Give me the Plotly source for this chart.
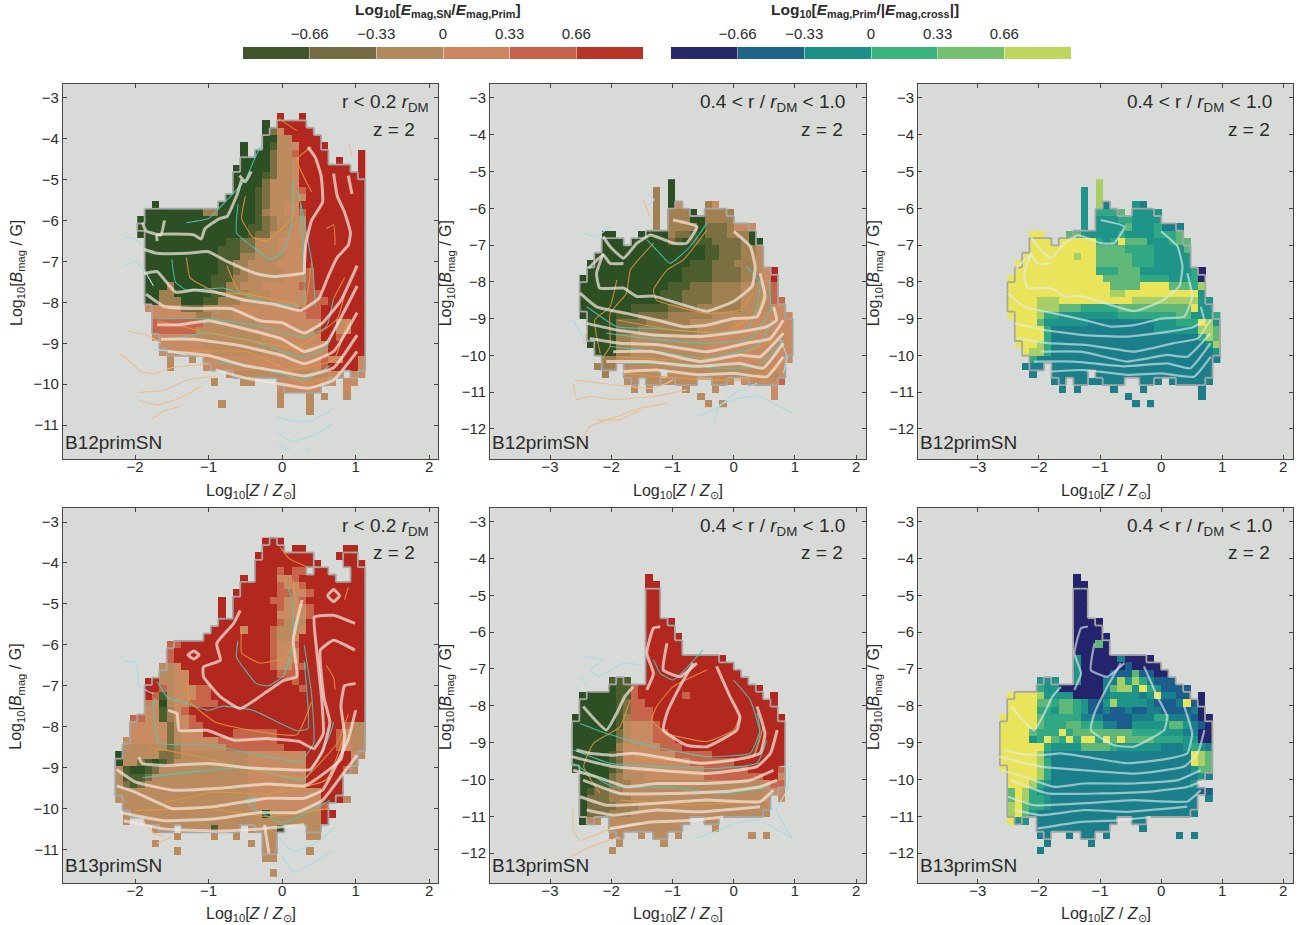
import re
import plotly.graph_objects as go

W, H = 1304, 925
GREENRED = ["#2c4f24", "#4c5d2e", "#7a7042", "#a08050", "#b98b5e", "#c98c62", "#c6654a", "#b2281f"]
VIRID = ["#23246b", "#1b5d8c", "#1a7f8b", "#1f9488", "#31a884", "#5fb878", "#a6cf68", "#e9e45a"]
BAR_L = ["#40552a", "#756b42", "#b08a5c", "#cd8660", "#c5624a", "#b73527"]
BAR_R = ["#27296b", "#1f6388", "#1b9089", "#39b27c", "#74c06f", "#bdd65c"]
BAR_TICKS = [-0.66, -0.33, 0, 0.33, 0.66]
BAR_CENTERS = [-0.825, -0.495, -0.165, 0.165, 0.495, 0.825]

# run-length rows, top to bottom: <count><level>, '.' = empty cell
P1_ROWS = ["19.1h2.1h", "17.1a1.4h", "17.1a1c1f4h", "17.2a2e4h", "14.1a2.1a1b2e1f4h", "14.1a1.2a1c2e1g4h4.1h",
 "14.4a1c2e1f4h1.1h2.1h", "13.5a1c2e1f7h1.1h", "13.4a1b1c2e1f9h", "13.4a1c3e1f9h", "13.3a1b1c3e1f1g8h",
 "12.4a1b1c3e2f8h", "2.1a8.5a1b1c2e2f9h", "1.8a2d5a1b1d2e2f1g8h", "16a1b1c1d2e2f8h", "15a2b1c1d2e2f8h", "15a1b2c2e3f8h",
 "1.11a2b2c3e4f8h", "1.10a3b2c3e4f8h", "1.10a3b2d4e3f8h", "1.10a2b2d4e4f8h", "1.10a2b1c1d5e3f1g7h", "1.9a3b2d5e3f1g7h",
 "1.3a1d5a2b2d3e5f2g7h", "1.2a2d5a2b3d3e5f2g6h", "1.2a3d3a2b3d4e5f3g5h", "1.5f3c4e9f3g6h", "2.6f2d3e10f2g6h",
 "2.7g7e9f2h2f2h", "2.6g8e8f1g2h2f2h", "2.6f9e8f2h1g3h", "3.6f9e8f5h", "3.7f9e7f5h", "4.1e2.1e1.16f1g2f2h1f",
 "4.1e4.16f1g4h1f", "12.14e2f1.2f", "10.1e3.2e3.7f1f1.2f", "19.6f3.1f", "19.1e3.1e1.1e2.1e", "11.1e7.1e3.1e", "23.1e"]

P2_ROWS = ["12.1a", "10.1d1.1a", "10.1d1.1a", "10.1d1.1a1f3.1d1f", "10.1d1.3d1a1.4d", "10.1d1.3d2a4d", "10.1d1.4d1a3c1d3f",
 "3.2a3.4a1d2c1b1a3c3d1a", "3.3a1.5a1c1b1a3b4c1d2a", "3.14a2b3c2d1e", "2.15a2b3c2d1e", "1.14a3b3c3d1e", "1.13a4b4c2d1e1f1h",
 "14a4b4c3d1f1h", "12a3b3c4d3e1f1g", "11a3b4c4d4e1g", "11a3b4c4d4e2g", "7a5b4c6d4e2f", "5a3b4c6d6e5f", "1.4a4c6d6e8f",
 "1.4a3c8d5e8f", "1.4a2d9e13f", "1.4a2d10e12f", "2.3a2d10e12f", "3.2d12e12f", "2.3d1.16e6f", "3.1d2.5e1.15e1f",
 "6.2e1.7e2.3e1.5f1g", "7.1e1.1e4.1e3.1e7.1f", "16.1e9.1f", "17.1e1.1e"]

P3_ROWS = ["12.1g", "10.1d1.1g", "10.1d1.1g", "10.1d1.1g1c3.1d1c", "10.1d1.3e1f1.4d", "10.1d1.3d2e4d", "10.1d1.4d1f3d1e3c",
 "3.2h3.2f3d2d1e1d3d3e1f", "3.3h1.5h1e1d1e1h3f3d1e2f", "3.9h4f4e4d1f", "2.7h1g2h5f3e5d", "1.11h5f3e5d", "1.11h3e3f4d3d1e1a",
 "13h2f3f4e3d1e1a", "14h4f4h3f1e1g", "14h2g10h1d", "4h3g10h9g2d", "4h3g3f5e10f1h2d", "4h1g2e8d8e2f3d1e",
 "1.3h1f6d9c3d2e1e1h1g1d", "1.4h1e14c5d1d2g1f", "1.4h1e20c1e1g1f", "1.3h1g1e21c1d1g", "2.1h2g1e22c1d", "3.1e25c",
 "2.3c1.22c", "3.1c2.5c1.16c", "6.2c1.7c2.3c1.6c", "7.1c1.1c4.1c3.1c7.1c", "16.1c9.1c", "17.1c1.1c"]

P4_ROWS = ["20.3h", "20.3h1.2h5.2h", "19.8h3.3h", "19.9h3.3h", "19.3h1g1h2g1.2h3.2h", "17.1h1.3h2f1g5h2.2h", "17.5h1g2f1g8h",
 "16.6h2g2f1g7h", "14.1h1.5h2g2f1g8h", "14.1h1.6h1g3f1g7h", "14.1h1.6h1f3f1g7h", "14.8h1g3e8h", "13.4h1f3h1g3e1f8h",
 "12.9h1g2e1f9h", "7.2g12h1g2f1g9h", "7.1g13h1g3f9h", "7.1g13h1g3f9h", "6.2e1f12h1g2f2g8h", "6.2e2f12h3g9h", "4.2h2e2f14h1g9h",
 "4.2h1g1e3f2g12h1g8h", "4.1h1g1b1e3f2g21h", "4.1e1f1a1e2f4g20h", "4.2f1b1d1f1g24h", "2.2g2f1b1d2f1g23h",
 "2.2f3f1c1e1f2g19h1g2e", "2.5f1c1e3f4h6g8h1g1f2e", "1.6f1c1e5f8g8h1g1f2e", "1.6e1c1d6f8g7h1g1f2e", "1a5e2c1d9e8f6h1f1e",
 "1a2e1c1b1a1b1c10e8f6h1e", "1e1b2a1b1c12e8f5h1g1e", "1e3b1c13e8f5h", "1e1c1b1c14e8f5h", "18e10f3h", "18e10f3h1e", "1.17e10f1g",
 "1.19e1a7e2h", "1.1e2.24e1h", "5.3e1.4e1b3e1.4e1a3.2e", "8.1e4.1e2.1e3.2e4.2e", "5.1e12.1e1.2e", "8.1e11.2e4.1e", "20.2e", "", "21.1e"]

P5_ROWS = ["10.1h", "10.2h", "10.2h", "10.2h", "10.2h", "10.2h", "10.4h", "10.4h", "10.5h", "10.5h", "10.5h", "10.11h", "10.12h", "10.13h",
 "5.3b2.14h", "5.1a2b1g17h", "1.5a2b1g6h1g10h1.1h", "1.5a1b1c2g18h", "1.5a1b1c3g17h", "6a1b1d3g18h", "6a1b1e3f1g17h", "6a1c1e3f2g16h",
 "6a1c1e3f3g15h", "6a1d1f4f3g14h", "5a1b1c1f6f5g10h", "5a1b1c1f8f6g7h", "5a1b1c1e10f6g4h1g", "1.4a1c1d3e8f8g2h1f",
 "1.2a2b1c2d18e1f2g", "1.1a1b2c2d19e3f", "1.1a1c2c3d18e1f1.1f", "1.1a4c3d18e", "1.1a3c3d19e", "1.1a2e1.11e2.2e", "5.10e4.1e",
 "5.2e2.1e1.2e1.1e9.1e1.1e", "6.1e5.1e", "5.1e"]

P6_ROWS = ["10.1a", "10.2a", "10.2a", "10.2a", "10.2a", "10.2a", "10.4a", "10.4a", "10.5a", "10.3a1f1a", "10.5a", "10.1d5a1c4a", "10.1d6a1b4a",
 "10.1d4a3b1f2b2a", "5.3d2.1d3a2c1g1d1g1e1c3b", "5.1e2d6a1c1f2g1d1h1e1d4b", "1.4h1g2d2d4a1c1d3d1c1d1h2c2b1.1a",
 "1.4h2f1e2f1e1d2b1d1g4d1c3b1c1h1b1a", "1.4h2e1d2f1e1d2b1c2b1c2b2c4b1c1a", "5h1f5e3c4b3c2e3c1b2a", "5h1f3e2f3e2c2b5d2f1d1c1b1a",
 "4h1f3e1h1e1f7f4e3d1c1c2a", "4h1d1e1h1f1e1h1e2h1e1h1f1h4f4e2d2a", "6h1e4d4f1e6d3c1d1e1d1c", "5h1g1d19c1h1g1f", "5h1g1e19c1h1g1f",
 "5h1g1e19c1d1f1f", "1.4h1g1e20c1d1c", "1.3h1g1e1d19c1d", "1.1f1h1g1e1d20c1c2b", "1.1f1h1g2e1d19c1c1.1c", "1.1g1h1f2e1d20c",
 "1.1g1h1f1d22c", "1.1h2d1.11c2.2c", "5.10c4.1c", "5.2c2.1c1.2c1.1c9.1c1.1c", "6.1c5.1c", "5.1c"]

# contour lines in data units
P1_WHITE = [
 [(-1.88,-6.7),(-1.7,-6.8),(-1.3,-6.8),(-1.0,-6.76),(-0.75,-7.0),(-0.35,-7.3),(-0.1,-7.37),(0.3,-7.29)],
 [(-1.88,-7.3),(-1.7,-7.25),(-1.45,-7.75),(-1.2,-7.7),(-0.9,-7.75),(-0.5,-7.95),(-0.1,-8.05),(0.25,-8.2),(0.5,-7.9),(0.63,-7.35),(0.75,-6.9),(0.9,-6.6),(0.93,-6.3),(0.85,-5.8),(0.75,-5.4),(0.7,-4.85)],
 [(-1.85,-7.8),(-1.6,-8.1),(-1.2,-8.15),(-0.7,-8.15),(-0.3,-8.45),(0,-8.5),(0.3,-8.75),(0.55,-8.5),(0.8,-7.95),(1.02,-7.1)],
 [(-1.7,-8.55),(-1.4,-8.55),(-1.0,-8.45),(-0.5,-8.65),(0,-8.9),(0.3,-9.2),(0.6,-9.0),(0.85,-8.2),(1.02,-7.6)],
 [(-1.65,-8.9),(-1.2,-8.9),(-0.6,-9.05),(0,-9.3),(0.3,-9.5),(0.7,-9.2),(1.02,-8.25)],
 [(-1.55,-9.2),(-1.0,-9.3),(-0.5,-9.55),(0,-9.7),(0.3,-9.8),(0.7,-9.6),(1.02,-8.8)],
 [(-0.9,-9.65),(-0.5,-9.85),(0,-10.0),(0.35,-10.1),(0.7,-9.9),(1.02,-9.2)],
 [(-1.9,-6.05),(-1.85,-6.25),(-1.65,-6.35),(-1.6,-6.0)],
 [(-1.7,-6.5),(-1.7,-6.35),(-1.2,-6.35),(-1.1,-6.45),(-1.05,-6.2),(-0.85,-5.95),(-0.75,-5.9),(-0.62,-5.4),(-0.55,-5.0)],
 [(-0.58,-4.9),(-0.5,-5.05),(-0.42,-4.8)],
 [(0.3,-7.3),(0.32,-6.6),(0.4,-6.0),(0.55,-5.55),(0.53,-4.9),(0.45,-4.45),(0.35,-4.2)],
 [(0.95,-5.35),(0.9,-4.9)],
]
P1_CYAN = [
 [(-0.6,-5.6),(-0.62,-6.3),(-0.25,-6.85),(-0.18,-6.95),(0.0,-6.8),(0.13,-6.1),(0.15,-5.0)],
 [(0.3,-8.1),(0.3,-7.3),(0.25,-5.6)], [(0.45,-8.1),(0.42,-7.2),(0.3,-6.0),(0.22,-5.3)],
 [(-1.7,-8.4),(-1.0,-8.4),(-0.4,-8.55),(0.3,-8.85),(0.6,-8.6),(0.7,-7.9)],
 [(-1.55,-8.9),(-1,-8.75),(-0.4,-8.95),(0.3,-9.35),(0.6,-9.1),(0.75,-8.5)],
 [(-0.9,-9.45),(-0.2,-9.65),(0.3,-9.9),(0.65,-9.55)],
 [(-1.5,-6.95),(-1.45,-7.5),(-1.3,-7.7),(-0.8,-7.65),(-0.2,-8.0),(0.3,-8.1)],
 [(-1.3,-6.05),(-1.0,-5.95),(-0.7,-5.4),(-0.5,-5.0),(-0.4,-4.6),(-0.3,-4.2)],
]
P1_ORANGE = [
 [(-0.5,-5.4),(-0.55,-5.95),(-0.4,-6.4),(-0.2,-6.5),(0.1,-6.0),(0.25,-5.4)],
 [(-1.3,-6.9),(-1.25,-7.4),(-0.9,-7.75),(-0.5,-7.8),(0.1,-8.0),(0.3,-8.1),(0.4,-7.0)],
 [(-0.75,-7.1),(-0.6,-7.7),(-0.2,-7.9)],
 [(-1.7,-8.45),(-1.1,-8.7),(-0.4,-8.95),(0.2,-9.1),(0.75,-8.4),(0.85,-7.8)],
 [(-1.3,-9.2),(-0.5,-9.2),(0.1,-9.65),(0.7,-9.4),(0.9,-8.4)],
 [(0.05,-9.7),(0.3,-10.0),(0.7,-9.8)],
 [(0.4,-5.3),(0.2,-4.5),(0.4,-4.2)], [(-0.05,-3.5),(0.2,-3.8)], [(0.6,-6.2),(0.7,-6.1),(0.72,-6.6)], [(0.7,-7.9),(0.85,-7.4)],
]
P1_LBLUE = [
 [(-2.15,-6.4),(-2.0,-6.45),(-1.9,-6.6)], [(-2.15,-7.1),(-2.0,-7.0),(-1.88,-7.2),(-1.75,-7.6)],
 [(-1.75,-9.15),(-1.5,-9.2),(-1.3,-9.3)], [(-0.1,-10.8),(0.15,-10.9),(0.4,-10.9),(0.7,-10.6)],
 [(-0.06,-11.2),(0.15,-11.4),(0.5,-11.2),(0.7,-10.95)], [(-0.05,-11.5),(0.1,-11.6)], [(0.33,-11.6),(0.4,-11.55)],
]
P1_LORANGE = [
 [(-2.2,-9.25),(-1.9,-9.7),(-1.75,-9.75),(-1.5,-9.6),(-1.0,-9.5)], [(-1.95,-10.2),(-1.6,-10.15),(-1.3,-9.9),(-0.9,-9.8)],
 [(-1.95,-10.4),(-1.7,-10.5),(-1.4,-10.35),(-1.1,-10.05)], [(-1.77,-10.85),(-1.6,-10.65),(-1.4,-10.55)],
 [(-2.1,-8.7),(-1.85,-8.8),(-1.65,-9.0)], [(0.9,-4.1),(0.95,-4.4)],
]
P2_WHITE = [
 [(0,-6.63),(0.27,-7.04),(0.35,-7.58),(0.3,-8.12),(0,-8.53),(-0.44,-8.8),(-0.88,-8.6),(-1.31,-8.39),(-1.58,-8.4),(-1.8,-8.17),(-2.19,-8.17),(-2.24,-7.77),(-2.13,-7.23)],
 [(-2.51,-8.31),(-2.24,-8.68),(-1.75,-8.86),(-1.26,-9.04),(-0.82,-9.22),(-0.44,-9.18),(0,-9.0),(0.38,-8.95),(0.51,-8.4),(0.43,-7.77)],
 [(-2.4,-9.13),(-1.91,-9.31),(-1.26,-9.45),(-0.55,-9.49),(0.1,-9.36),(0.54,-9.22),(0.7,-9.04),(0.65,-8.68)],
 [(-2.35,-9.54),(-1.86,-9.67),(-1.2,-9.72),(-0.44,-9.9),(0.21,-9.67),(0.6,-9.54),(0.81,-9.04)],
 [(-1.97,-9.9),(-1.31,-9.9),(-0.55,-10.17),(0.1,-9.99),(0.43,-10.04),(0.81,-9.4)],
 [(-2.08,-10.17),(-1.42,-10.17),(-0.6,-10.3),(0.1,-10.22),(0.48,-10.35),(0.81,-9.67)],
 [(-1.8,-10.44),(-1.26,-10.4),(-0.55,-10.53),(0,-10.49),(0.54,-10.58),(0.81,-10.04)],
 [(-2.13,-6.77),(-2.02,-7.04),(-1.8,-7.36),(-1.58,-6.95),(-1.36,-6.73),(-0.99,-6.95),(-0.77,-6.95),(-0.6,-6.5),(-0.99,-6.32)],
 [(-2.37,-7.63),(-2.13,-7.27),(-2.02,-7.5),(-1.8,-7.5)],
]
P2_CYAN = [
 [(-0.44,-6.41),(-0.71,-7.04),(-1.04,-7.5),(-1.26,-7.13),(-1.42,-6.85)],
 [(0.21,-7.59),(0.43,-8.04),(0.38,-8.68),(0.21,-9.31),(-0.28,-9.4),(-1.26,-9.27),(-1.91,-9.22),(-2.4,-8.68)],
 [(-2.08,-9.4),(-1.2,-9.58),(-0.44,-9.67),(0.27,-9.54),(0.6,-8.77),(0.57,-7.95)],
 [(-2.02,-9.76),(-1.26,-9.9),(-0.5,-10.08),(0.38,-9.76),(0.65,-9.04)],
 [(-1.8,-10.22),(-0.99,-10.22),(-0.28,-10.35),(0.38,-10.3),(0.81,-9.58)],
]
P2_ORANGE = [
 [(-0.44,-6.6),(-0.82,-7.4),(-1.09,-7.68),(-1.31,-8.22),(-1.26,-8.5),(-0.44,-8.86),(0.1,-8.77),(0.32,-8.31)],
 [(-1.31,-6.95),(-1.69,-7.68),(-1.75,-8.31),(-2.02,-8.86),(-2.02,-9.76),(-2.13,-10.04)],
 [(-1.91,-7.95),(-2.02,-8.68),(-2.27,-9.04),(-2.18,-9.95)],
 [(-1.91,-9.04),(-0.99,-9.31),(-0.17,-9.36),(0.38,-8.86),(0.51,-8.22)],
 [(-1.91,-10.04),(-0.99,-10.12),(0,-10.04),(0.65,-9.58)],
 [(-1.8,-10.49),(-0.88,-10.62),(0.1,-10.67),(0.81,-10.3)],
]
P2_LBLUE = [
 [(-2.46,-6.68),(-2.24,-6.77),(-2.02,-6.5)], [(-1.42,-5.95),(-1.3,-5.77),(-1.42,-5.6)], [(-2.62,-9.04),(-2.51,-9.4),(-2.4,-9.67)],
 [(-0.6,-11.67),(-0.28,-11.45),(0,-11.04),(0.38,-10.76)], [(-0.33,-11.8),(-0.22,-11.35),(0,-11.2),(0.38,-11.1),(0.95,-11.57)],
 [(0.76,-9.58),(0.87,-10.04),(0.81,-10.49)],
]
P2_LORANGE = [
 [(-2.62,-10.76),(-2.56,-11.2),(-2.35,-11.12),(-1.97,-11.2),(-1.31,-11.12),(-0.77,-10.94)],
 [(-2.6,-10.67),(-1.97,-10.8),(-1.31,-10.9),(-0.99,-10.67)],
 [(-2.55,-12.55),(-2.35,-11.94),(-1.91,-11.67),(-1.53,-11.44),(-1.09,-11.3)],
 [(-2.24,-11.75),(-1.86,-11.75),(-1.53,-11.49)], [(-1.48,-5.77),(-1.37,-6.23)], [(-2.4,-9.3),(-2.45,-9.7)],
]
P4_WHITE = [
 [(0.27,-4.91),(0.15,-5.89),(0.2,-6.78),(0.02,-6.87),(-0.21,-7.15),(-0.57,-7.56),(-0.84,-7.27),(-1.07,-6.78),(-1.07,-6.54),(-0.84,-6.38),(-0.89,-5.97),(-0.66,-5.48),(-0.57,-5.16)],
 [(-1.55,-7.6),(-1.43,-7.68),(-1.4,-8.09),(-1.02,-8.09),(-0.66,-8.33),(-0.21,-8.29),(0.24,-8.37),(0.43,-8.54),(0.56,-8.17),(0.54,-7.36),(0.47,-6.13),(0.44,-5.32),(0.7,-5.28),(0.99,-5.48)],
 [(0.99,-6.13),(0.7,-5.89),(0.52,-6.13),(0.57,-7.3),(0.65,-7.9),(0.55,-8.6),(0.38,-9.05),(0.05,-9.05),(-0.5,-9.0),(-1.0,-8.9),(-1.6,-8.95),(-1.9,-8.9),(-1.95,-8.75)],
 [(1.0,-6.95),(0.85,-7.0),(0.8,-7.5),(0.85,-8.2),(0.8,-8.8),(0.45,-9.3),(0.3,-9.45),(-0.2,-9.4),(-0.8,-9.5),(-1.5,-9.55),(-2.0,-9.35),(-2.25,-9.05)],
 [(1.0,-7.6),(0.9,-8.3),(0.55,-9.55),(0.3,-9.75),(-0.2,-9.75),(-0.9,-9.95),(-1.5,-10.0),(-2.0,-9.6),(-2.25,-9.45)],
 [(1.02,-8.7),(0.85,-9.1),(0.55,-9.8),(0.2,-10.1),(-0.3,-10.1),(-0.9,-10.25),(-1.6,-10.3),(-2.2,-10.1)],
 [(-2.15,-10.3),(-1.6,-10.5),(-0.9,-10.55),(-0.3,-10.5),(0.3,-10.4)],
 [(0.62,-4.8),(0.7,-4.65),(0.78,-4.8),(0.7,-4.95),(0.62,-4.8)], [(-1.28,-6.25),(-1.2,-6.15),(-1.13,-6.25),(-1.2,-6.35),(-1.28,-6.25)],
 [(-0.24,-10.4),(-0.18,-11.1)],
]
P4_CYAN = [
 [(-0.6,-5.9),(-0.62,-6.3),(-0.35,-6.95),(-0.18,-7.0),(0.02,-6.75),(0.15,-6.0),(0.15,-5.0),(0.08,-4.6)],
 [(-1.7,-6.9),(-1.55,-7.3),(-1.35,-7.4),(-1.0,-7.6),(-0.8,-7.5),(-0.4,-7.6),(0.2,-8.1),(0.35,-8.05),(0.3,-6.4)],
 [(-1.73,-7.3),(-1.75,-7.6),(-1.68,-8.4),(-1.0,-8.45),(-0.3,-8.7),(0.25,-8.85),(0.43,-8.4),(0.4,-7.2),(0.3,-6.0)],
 [(-1.9,-9.25),(-1.2,-9.1),(-0.5,-9.0),(0.3,-9.3),(0.65,-8.2),(0.7,-7.9)],
 [(-0.5,-9.8),(-0.4,-9.95),(-0.35,-9.7),(-0.5,-9.8)], [(-0.4,-10.0),(0.0,-10.35),(0.4,-10.05),(0.65,-9.8)],
]
P4_ORANGE = [
 [(-1.3,-6.9),(-1.25,-7.4),(-0.9,-7.9),(-0.4,-8.1),(0.2,-8.2),(0.4,-7.4)],
 [(-0.55,-5.6),(-0.55,-6.2),(-0.3,-6.45),(0.05,-6.3),(0.2,-5.6),(0.18,-4.9),(0.15,-4.4)],
 [(-1.8,-8.5),(-1.1,-8.75),(-0.3,-9.1),(0.3,-9.25),(0.75,-8.4),(0.9,-7.7)],
 [(-1.6,-9.85),(-0.9,-9.6),(-0.2,-9.65),(0.6,-9.3),(0.85,-8.2)],
 [(-2.0,-10.05),(-1.0,-10.0),(-0.2,-10.2),(0.65,-10.0)],
 [(0.6,-6.5),(0.7,-6.8),(0.72,-7.1)], [(-0.03,-3.6),(0.1,-3.9),(0.35,-4.1)], [(0.85,-4.9),(0.9,-4.6)],
]
P4_LBLUE = [
 [(-2.15,-6.4),(-1.98,-6.45),(-1.95,-7.0),(-1.75,-7.2)],
 [(-0.05,-10.7),(0.15,-11.05),(0.5,-10.8),(0.72,-10.45)], [(0.0,-11.15),(0.15,-11.55),(0.45,-11.3),(0.7,-11.0)],
]
P4_LORANGE = [[(-1.9,-10.3),(-1.75,-10.6),(-1.6,-10.7)], [(-1.7,-10.85),(-1.5,-10.7)]]
P5_WHITE = [
 [(-0.28,-6.93),(-0.06,-7.75),(0.1,-8.29),(0.05,-8.66),(-0.44,-9.11),(-0.77,-9.07),(-1.15,-8.66),(-1.09,-8.2),(-0.88,-7.48),(-0.66,-6.84)],
 [(0.38,-8.02),(0.51,-8.75),(0.43,-9.29),(0,-9.47),(-0.55,-9.56),(-1.26,-9.38),(-1.64,-9.29),(-1.97,-9.34),(-2.35,-9.29),(-2.57,-9.2)],
 [(-2.65,-9.38),(-1.97,-9.65),(-1.26,-9.75),(-0.44,-9.84),(0.38,-9.65),(0.6,-9.29),(0.71,-8.66)],
 [(-2.62,-9.75),(-2.24,-9.93),(-1.75,-10.2),(-1.26,-10.11),(-0.44,-10.11),(0.27,-10.02),(0.65,-9.75)],
 [(-2.46,-10.02),(-1.86,-10.38),(-0.99,-10.38),(-0.17,-10.33),(0.43,-10.2),(0.71,-10.02)],
 [(-2.51,-10.47),(-2.08,-10.7),(-1.31,-10.65),(-0.44,-10.56),(0.43,-10.6),(0.65,-10.29)],
 [(-2.4,-10.83),(-1.97,-10.97),(-1.26,-10.83),(-0.55,-10.88),(0.43,-10.74)],
 [(-2.02,-11.33),(-1.31,-11.15),(-0.66,-11.11),(-0.17,-11.02)],
 [(-2.46,-8.02),(-2.08,-8.66),(-1.91,-8.2),(-1.78,-7.75),(-1.64,-7.48)],
 [(-1.42,-7.57),(-1.31,-7.12),(-1.42,-6.57),(-1.31,-5.89),(-1.2,-5.85)],
 [(-1.09,-6.3),(-1.15,-7.03),(-0.88,-7.21),(-0.6,-6.84)],
]
P5_CYAN = [
 [(-2.51,-8.48),(-2.08,-8.75),(-1.31,-9.11),(-0.44,-9.38),(0.27,-9.29),(0.43,-8.66),(0.38,-8.2)],
 [(-2.62,-9.2),(-2.02,-9.56),(-1.2,-9.65),(-0.28,-9.7),(0.38,-9.56),(0.54,-8.93)],
 [(-2.62,-9.56),(-1.97,-10.2),(-1.09,-10.2),(-0.17,-10.38),(0.6,-10.2)],
 [(-1.31,-6.75),(-1.2,-7.12),(-0.99,-7.3),(-0.5,-6.48)], [(0,-7.3),(0.27,-7.84),(0.43,-8.75),(0.32,-9.38)],
]
P5_ORANGE = [
 [(-0.44,-7.03),(-0.99,-7.48),(-1.26,-8.02),(-1.34,-8.39),(-1.09,-8.75),(-0.44,-8.97),(0,-8.66),(0.1,-8.29)],
 [(-1.69,-7.84),(-1.86,-8.57),(-2.29,-9.02),(-2.45,-9.65),(-2.18,-10.38)],
 [(-1.64,-9.38),(-0.44,-9.56),(0.32,-9.38),(0.48,-8.57)], [(-1.86,-10.56),(-0.71,-10.7),(0.54,-10.56)],
]
P5_LBLUE = [
 [(-2.46,-6.66),(-2.13,-6.75),(-2.35,-7.03),(-2.2,-7.2),(-1.8,-6.84),(-1.5,-6.9)], [(-2.51,-7.2),(-2.4,-7.43)],
 [(-0.6,-11.6),(-0.28,-11.4),(0,-11.2),(0.38,-11.1),(0.95,-11.58)], [(0.76,-9.65),(0.92,-9.65),(0.87,-10.29),(0.7,-10.83),(0.95,-11.6)],
]
P5_LORANGE = [
 [(-2.62,-10.74),(-2.62,-11.38),(-2.51,-11.65),(-2.08,-11.38),(-1.53,-11.2)], [(-2.65,-12.1),(-2.35,-11.83),(-1.86,-11.56)],
]

PANELS = [
 dict(rows=P1_ROWS, pal=GREENRED, px=(63, 438), py=(84, 459), xr=(-2.98, 2.12), yr=(-11.83, -2.66), x0=-1.97, y0=-3.37, dx=0.1, dy=0.18,
      sets=(P1_WHITE, P1_CYAN, P1_ORANGE, P1_LBLUE, P1_LORANGE), xt=[-2,-1,0,1,2], yt=list(range(-3,-12,-1)), name="B12primSN", rad=0),
 dict(rows=P2_ROWS, pal=GREENRED, px=(490.3, 866), py=(84, 459), xr=(-3.975, 2.16), yr=(-12.82, -2.62), x0=-2.516, y0=-5.21, dx=0.12, dy=0.2,
      sets=(P2_WHITE, P2_CYAN, P2_ORANGE, P2_LBLUE, P2_LORANGE), xt=[-3,-2,-1,0,1,2], yt=list(range(-3,-13,-1)), name="B12primSN", rad=1),
 dict(rows=P3_ROWS, pal=VIRID, px=(918.3, 1293), py=(84, 459), xr=(-3.975, 2.16), yr=(-12.82, -2.62), x0=-2.516, y0=-5.21, dx=0.12, dy=0.2,
      sets=(P2_WHITE, [], [], [], []), xt=[-3,-2,-1,0,1,2], yt=list(range(-3,-13,-1)), name="B12primSN", rad=1),
 dict(rows=P4_ROWS, pal=GREENRED, px=(63, 438), py=(507.7, 883.3), xr=(-2.98, 2.12), yr=(-11.83, -2.65), x0=-2.27, y0=-3.384, dx=0.1, dy=0.18,
      sets=(P4_WHITE, P4_CYAN, P4_ORANGE, P4_LBLUE, P4_LORANGE), xt=[-2,-1,0,1,2], yt=list(range(-3,-12,-1)), name="B13primSN", rad=0),
 dict(rows=P5_ROWS, pal=GREENRED, px=(490.3, 866), py=(507.7, 883.3), xr=(-3.975, 2.16), yr=(-12.82, -2.62), x0=-2.64, y0=-4.42, dx=0.12, dy=0.2,
      sets=(P5_WHITE, P5_CYAN, P5_ORANGE, P5_LBLUE, P5_LORANGE), xt=[-3,-2,-1,0,1,2], yt=list(range(-3,-13,-1)), name="B13primSN", rad=1),
 dict(rows=P6_ROWS, pal=VIRID, px=(918.3, 1293), py=(507.7, 883.3), xr=(-3.975, 2.16), yr=(-12.82, -2.62), x0=-2.64, y0=-4.42, dx=0.12, dy=0.2,
      sets=(P5_WHITE, [], [], [], []), xt=[-3,-2,-1,0,1,2], yt=list(range(-3,-13,-1)), name="B13primSN", rad=1),
]


def parse(rows):
    out = []
    for row in rows:
        cells = []
        for n, ch in re.findall(r"(\d+)([a-h.])", row):
            cells += [None if ch == "." else "abcdefgh".index(ch)] * int(n)
        out.append(cells)
    w = max(len(r) for r in out)
    return [r + [None] * (w - len(r)) for r in out], w


def scale(pal):
    n = len(pal) - 1
    return [[i / n, c] for i, c in enumerate(pal)]


def outline(grid, w, x0, y0, dx, dy):
    h = len(grid)
    def filled(r, c):
        return 0 <= r < h and 0 <= c < w and grid[r][c] is not None
    keep = set()
    for r in range(h):
        for c in range(w):
            if filled(r, c):
                nb = sum(filled(r + a, c + b) for a in (-1, 0, 1) for b in (-1, 0, 1) if a or b)
                if nb >= 5:
                    keep.add((r, c))
    xs, ys = [], []
    for r, c in keep:
        l, rr, t, b = x0 + c * dx, x0 + (c + 1) * dx, y0 - r * dy, y0 - (r + 1) * dy
        if (r - 1, c) not in keep: xs += [l, rr, None]; ys += [t, t, None]
        if (r + 1, c) not in keep: xs += [l, rr, None]; ys += [b, b, None]
        if (r, c - 1) not in keep: xs += [l, l, None]; ys += [t, b, None]
        if (r, c + 1) not in keep: xs += [rr, rr, None]; ys += [t, b, None]
    return xs, ys


def flat(lines):
    xs, ys = [], []
    for ln in lines:
        xs += [p[0] for p in ln] + [None]
        ys += [p[1] for p in ln] + [None]
    return xs, ys


fig = go.Figure()
layout = {}
ann = []
FONT = "Liberation Sans, Arial, sans-serif"
TXT = "#2b2b2b"


def note(text, px, py, size=19, xanchor="center", angle=0):
    ann.append(dict(text=text, x=px / W, y=1 - py / H, xref="paper", yref="paper", showarrow=False, xanchor=xanchor,
                    yanchor="middle", textangle=angle, font=dict(family=FONT, size=size, color=TXT)))


for i, p in enumerate(PANELS, start=1):
    xa, ya = f"x{i}", f"y{i}"
    grid, w = parse(p["rows"])
    xc = [p["x0"] + (c + 0.5) * p["dx"] for c in range(w)]
    yc = [p["y0"] - (r + 0.5) * p["dy"] for r in range(len(grid))]
    fig.add_trace(go.Heatmap(z=grid, x=xc, y=yc, zmin=0, zmax=7, colorscale=scale(p["pal"]), showscale=False,
                             hoverinfo="skip", xaxis=xa, yaxis=ya))
    gx, gy = outline(grid, w, p["x0"], p["y0"], p["dx"], p["dy"])
    fig.add_trace(go.Scatter(x=gx, y=gy, mode="lines", line=dict(color="#a6a6a6", width=1.8), xaxis=xa, yaxis=ya, hoverinfo="skip"))
    white, cyan, orange, lblue, lorange = p["sets"]
    for lines, col, wd in ((lblue, "#a9dbe6", 1.1), (lorange, "#f0bd8e", 1.1), (cyan, "rgba(70,205,190,0.85)", 1.1),
                           (orange, "rgba(232,150,60,0.85)", 1.1)):
        if lines:
            lx, ly = flat(lines)
            fig.add_trace(go.Scatter(x=lx, y=ly, mode="lines", line=dict(color=col, width=wd, shape="spline", smoothing=0.4),
                                     xaxis=xa, yaxis=ya, hoverinfo="skip"))
    lx, ly = flat(white)
    wcol, wwd = ("rgba(243,230,222,0.72)", 3) if p["pal"] is GREENRED else ("rgba(225,238,238,0.62)", 2.2)
    fig.add_trace(go.Scatter(x=lx, y=ly, mode="lines", line=dict(color=wcol, width=wwd, shape="spline", smoothing=0.4),
                             xaxis=xa, yaxis=ya, hoverinfo="skip"))
    suf = "" if i == 1 else str(i)
    common = dict(showgrid=False, zeroline=False, showline=True, mirror="ticks", linecolor="#444444", linewidth=1.3,
                  ticks="inside", ticklen=4, tickcolor="#444444", tickwidth=1, tickfont=dict(family=FONT, size=15, color=TXT))
    layout["xaxis" + suf] = dict(common, domain=[p["px"][0] / W, p["px"][1] / W], range=list(p["xr"]), anchor=ya,
                                 tickvals=p["xt"], ticklabelstandoff=-6)
    layout["yaxis" + suf] = dict(common, domain=[1 - p["py"][1] / H, 1 - p["py"][0] / H], range=list(p["yr"]), anchor=xa,
                                 tickvals=p["yt"], ticklabelstandoff=0)
    left, right = p["px"]
    top = p["py"][0]
    if p["rad"] == 0:
        note("r &lt; 0.2 <i>r</i><sub>DM</sub>", right - 7, top + 19, xanchor="right")
        note("z = 2", right - 21, top + 45, xanchor="right")
    else:
        note("0.4 &lt; r / <i>r</i><sub>DM</sub> &lt; 1.0", right - 19, top + 19, xanchor="right")
        note("z = 2", right - 21, top + 45, xanchor="right")
    note(p["name"], left, top + 358, xanchor="left")
    note("Log<sub>10</sub>[<i>Z</i> / <i>Z</i><sub>⊙</sub>]", (left + right) / 2, top + 407, size=16)
    note("Log<sub>10</sub>[<i>B</i><sub>mag</sub> / G]", left - (46 if p["rad"] == 0 else 44), top + 189, size=16, angle=-90)

for j, (pal, px0, title, cx) in enumerate(((BAR_L, 243, "<b>Log<sub>10</sub>[<i>E</i><sub>mag,SN</sub>/<i>E</i><sub>mag,Prim</sub>]</b>", 438),
                                            (BAR_R, 671, "<b>Log<sub>10</sub>[<i>E</i><sub>mag,Prim</sub>/|<i>E</i><sub>mag,cross</sub>|]</b>", 865)), start=7):
    fig.add_trace(go.Heatmap(z=[list(range(6))], x=BAR_CENTERS, y=[0], zmin=0, zmax=5, colorscale=scale(pal), showscale=False,
                             hoverinfo="skip", xaxis=f"x{j}", yaxis=f"y{j}"))
    layout[f"xaxis{j}"] = dict(domain=[px0 / W, (px0 + 400) / W], range=[-0.99, 0.99], anchor=f"y{j}", side="top", tickvals=BAR_TICKS,
                               ticktext=["−0.66", "−0.33", "0", "0.33", "0.66"], ticks="inside", ticklen=12, tickcolor="rgba(255,255,255,0.5)",
                               ticklabelstandoff=4, showgrid=False, zeroline=False, showline=False, tickfont=dict(family=FONT, size=15, color=TXT))
    layout[f"yaxis{j}"] = dict(domain=[1 - 59 / H, 1 - 47 / H], range=[-0.5, 0.5], anchor=f"x{j}", visible=False)
    note(title, cx, 11, size=15.5)

fig.update_layout(width=W, height=H, autosize=False, margin=dict(l=0, r=0, t=0, b=0), paper_bgcolor="white", plot_bgcolor="#d8dad7",
                  showlegend=False, annotations=ann, **layout)
fig.write_html("out.html", config=dict(displayModeBar=False),
               post_script="document.body.style.margin='0';document.documentElement.style.overflow='hidden';")
